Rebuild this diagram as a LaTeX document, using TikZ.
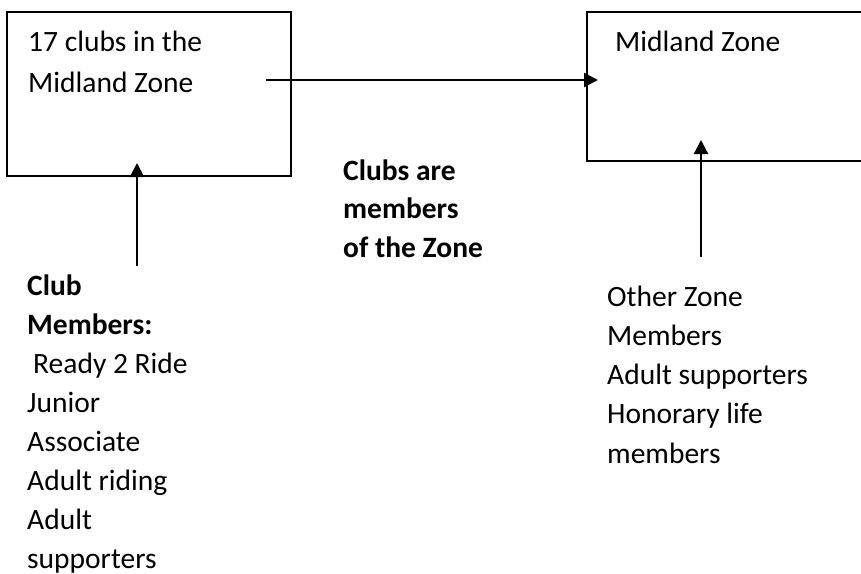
\documentclass[tikz,border=0pt]{standalone}
\usepackage{fontspec}
\setmainfont{Carlito}
\usetikzlibrary{arrows.meta}
\begin{document}
\begin{tikzpicture}[x=1pt,y=-1pt,
  boxstyle/.style={draw=black, line width=1.8pt, inner sep=0pt},
  conn/.style={line width=2.2pt, -{Triangle[length=14pt,width=14pt]}},
  txt/.style={anchor=base west, inner sep=0pt, align=left, font=\fontsize{29.5}{39}\selectfont}
]
\useasboundingbox (0,0) rectangle (861,573);
\fill[white] (0,0) rectangle (861,573);
% boxes
\node[boxstyle, minimum width=284pt, minimum height=164pt] (clubs) at (149,94) {};
\node[boxstyle, minimum width=320pt, minimum height=149pt] (zone) at (747,86.5) {};
% texts (anchor = baseline of the last line)
\node[txt, font=\fontsize{29.5}{41}\selectfont] (clubstxt) at (28,92) {17 clubs in the\\Midland Zone};
\node[txt] (zonetxt) at (615,51) {Midland Zone};
\node[txt, font=\bfseries\fontsize{29.5}{38.5}\selectfont] (mid) at (343,257) {Clubs are\\members\\of the Zone};
\node[txt, font=\fontsize{29.5}{38.9}\selectfont] (clubmem) at (27,568) {\textbf{Club}\\\textbf{Members:}\\\hspace{6pt}Ready 2 Ride\\Junior\\Associate\\Adult riding\\Adult\\supporters};
\node[txt, font=\fontsize{29.5}{39.25}\selectfont] (othermem) at (607,463) {Other Zone\\Members\\Adult supporters\\Honorary life\\members};
% connector end points
\coordinate (hstart) at (266,80);
\coordinate (hend) at (598,80);
\coordinate (lstart) at (137,266);
\coordinate (lend) at (137,163);
\coordinate (rstart) at (701,257);
\coordinate (rend) at (701,140);
\draw[conn] (hstart) -- (hend);
\draw[conn] (lstart) -- (lend);
\draw[conn] (rstart) -- (rend);
\end{tikzpicture}
\end{document}
